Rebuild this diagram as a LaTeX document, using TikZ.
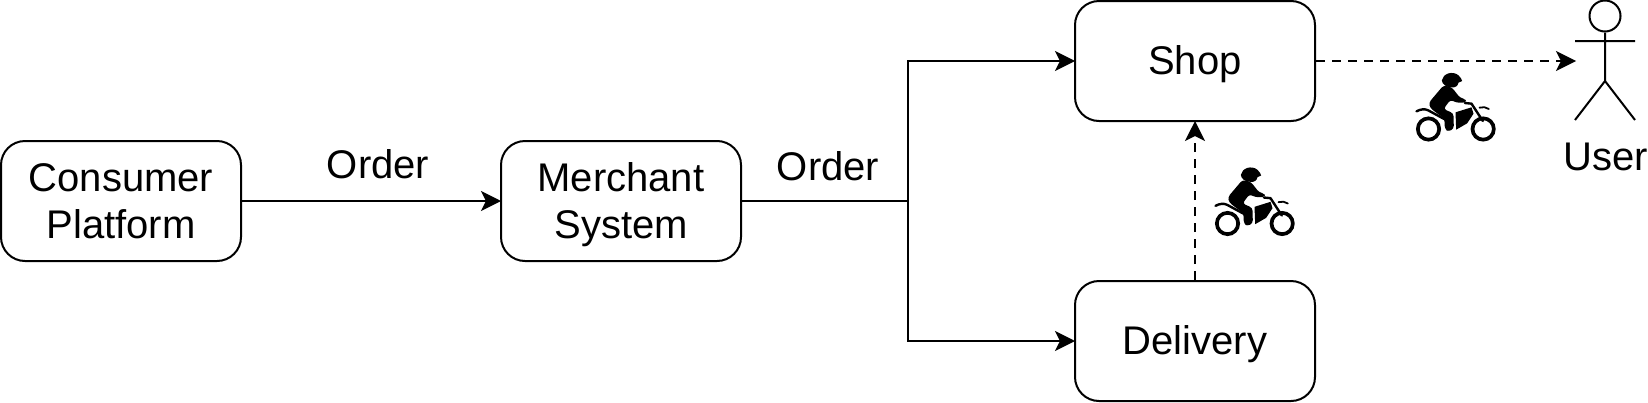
\documentclass[tikz,border=0pt]{standalone}
\usepackage{fontspec}
\setmainfont{Liberation Sans}
\usetikzlibrary{arrows.meta}
\newcommand{\lineprop}{\rule[-10pt]{0pt}{47pt}}
\tikzset{
  x=1pt,y=-1pt,
  wire/.style={line width=2pt,draw=black},
  flowbox/.style={draw=black,line width=2pt,rounded corners=24pt,minimum width=240pt,minimum height=120pt,inner sep=0pt,align=center,font=\fontsize{40}{47}\selectfont},
  lab/.style={inner sep=0pt,anchor=base,font=\fontsize{40}{47}\selectfont},
  arrowtip/.style={-{Stealth[length=20pt,width=20pt,inset=5pt]},shorten >=-1pt},
  flow/.style={wire,arrowtip},
  dashflow/.style={wire,arrowtip,dash pattern=on 9pt off 7pt,line width=2.2pt},
  pics/moto/.style={code={
    \begin{scope}[x=0.3333pt,y=-0.3333pt,shift={(-215,-155)}]
      \fill (183,90) .. controls (186,70) and (215,60) .. (233,75) .. controls (239,81) and (243,87) .. (244,92) -- (233,97) .. controls (231,107) and (222,113) .. (212,111) .. controls (196,111) and (184,102) .. (183,90) -- cycle;
      \fill[rounded corners=3pt] (188,105) -- (213,111) -- (238,143) -- (255,146) -- (255,157) -- (226,157) -- (209,148) -- (188,176) -- (218,189) -- (219,235) -- (204,244) -- (192,237) -- (191,206) -- (148,173) -- (144,157) -- cycle;
      \fill (224,186) -- (272,171) -- (278,190) -- (259,219) -- (226,238) -- cycle;
      \draw[line width=3.7pt] (143,236) circle (32);
      \draw[line width=3.7pt] (307,236) circle (32);
      \draw[line width=2.4pt,line cap=round,line join=round] (107,183) .. controls (120,176) and (132,175) .. (142,180) -- (190,206);
      \draw[line width=2.4pt,line cap=round,line join=round] (252,158) -- (272,160) -- (306,212);
      \draw[line width=1.8pt,line cap=round] (296,172) .. controls (306,169) and (316,170) .. (324,176);
    \end{scope}
  }},
}
\begin{document}
\begin{tikzpicture}
\useasboundingbox (0,0) rectangle (1648,402);
\node[flowbox] (consumer) at (121,201) {\lineprop Consumer\\\lineprop Platform};
\node[flowbox] (merchant) at (621,201) {\lineprop Merchant\\\lineprop System};
\node[flowbox] (shop) at (1195,61) {\lineprop Shop};
\node[flowbox] (delivery) at (1195,341) {\lineprop Delivery};
\coordinate (split) at (908,201);
\draw[flow] (consumer.east) -- (merchant.west);
\draw[flow] (merchant.east) -- (split) |- (shop.west);
\draw[flow] (split) |- (delivery.west);
\draw[dashflow] (delivery.north) -- (shop.south);
% actor
\node[draw=black,line width=2pt,circle,minimum size=31pt,inner sep=0pt] (head) at (1605,16) {};
\coordinate (hip) at (1605,81);
\coordinate (armL) at (1575,41);
\coordinate (armR) at (1635,41);
\coordinate (legL) at (1575,120);
\coordinate (legR) at (1635,120);
\coordinate (actorIn) at (1575,61);
\draw[wire] (head.south) -- (hip) (armL) -- (armR) (legL) -- (hip) -- (legR);
\draw[dashflow] (shop.east) -- (actorIn);
\node[lab] (user) at (1606,170) {User};
\node[lab] (order1) at (378,178) {Order};
\node[lab] (order2) at (828,180) {Order};
\pic at (1452.5,102) {moto};
\pic at (1251.5,196.5) {moto};
\end{tikzpicture}
\end{document}
